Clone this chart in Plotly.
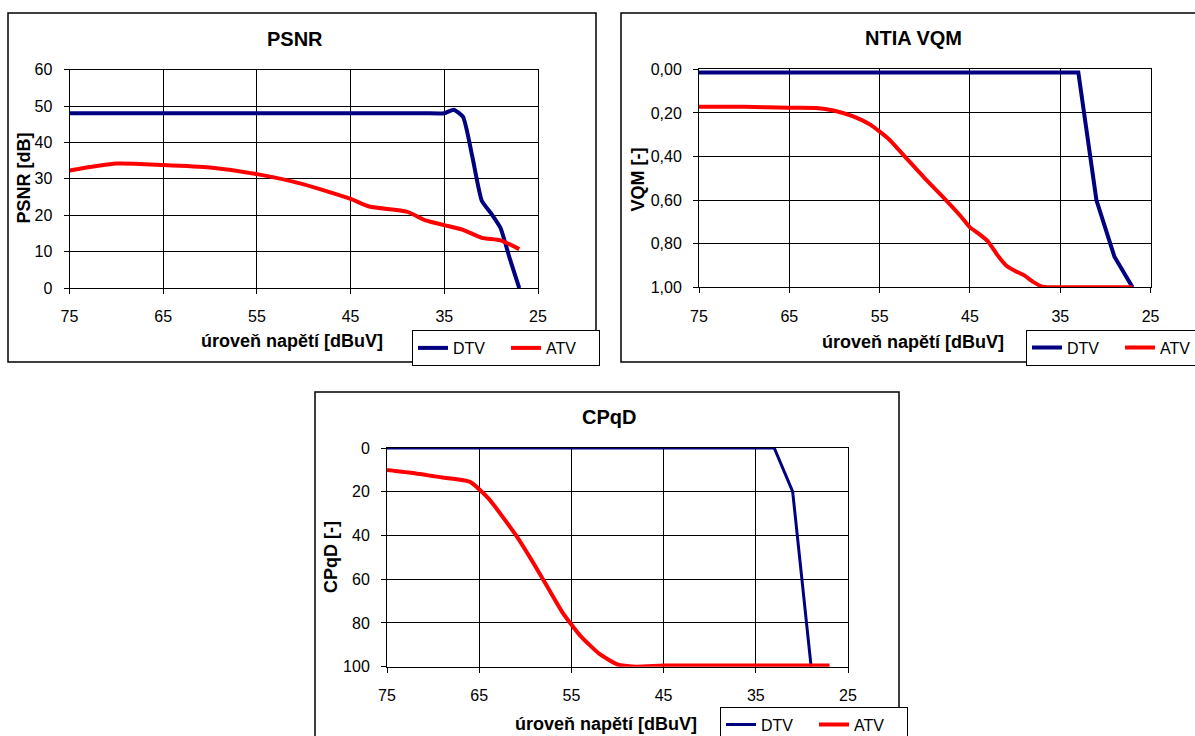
import plotly.graph_objects as go

# ---------------- data ----------------
psnr_x_dtv = [75, 70, 65, 60, 55, 50, 45, 43, 41, 39, 37, 35, 34, 33, 32, 31, 30, 29, 28, 27]
psnr_dtv = [48, 48, 48, 48, 48, 48, 48, 48, 48, 48, 48, 48, 49, 47, 36, 24, 20.5, 16.5, 8, 0]
psnr_x_atv = [75, 70, 65, 60, 55, 50, 45, 43, 39, 37, 35, 33, 31, 29, 27]
psnr_atv = [32.3, 34.2, 33.8, 33.1, 31.3, 28.5, 24.5, 22.4, 21.0, 18.6, 17.3, 16.0, 13.8, 13.1, 10.7]

vqm_x_dtv = [75, 70, 65, 60, 55, 50, 45, 40, 35, 33, 31, 29, 27]
vqm_dtv = [0.015, 0.015, 0.015, 0.015, 0.015, 0.015, 0.015, 0.015, 0.015, 0.015, 0.6, 0.86, 1.0]
vqm_x_atv = [75, 70, 65, 62, 60, 58, 56, 54, 52, 50, 48, 46, 45, 44, 43, 42, 41, 40, 39, 38, 37, 35, 33, 31, 29, 27]
vqm_atv = [0.172, 0.172, 0.176, 0.177, 0.19, 0.215, 0.255, 0.32, 0.41, 0.5, 0.585, 0.675, 0.725, 0.755,
           0.79, 0.85, 0.9, 0.925, 0.945, 0.975, 0.997, 1.0, 1.0, 1.0, 1.0, 1.0]

cpqd_x_dtv = [75, 70, 65, 60, 55, 50, 45, 40, 35, 33, 31, 29]
cpqd_dtv = [0, 0, 0, 0, 0, 0, 0, 0, 0, 0, 20, 100]
cpqd_x_atv = [75, 72, 69, 66, 64, 61, 58.5, 56, 54, 52, 50, 48, 45, 40, 35, 30, 27]
cpqd_atv = [10, 11.5, 13.5, 15.5, 23, 40, 57, 75, 86, 94, 99, 100, 99.5, 99.5, 99.5, 99.5, 99.5]

x_ticks = [75, 65, 55, 45, 35, 25]
vqm_tickvals = [0.0, 0.2, 0.4, 0.6, 0.8, 1.0]
vqm_ticktext = ["0,00", "0,20", "0,40", "0,60", "0,80", "1,00"]

chart_titles = ["PSNR", "NTIA VQM", "CPqD"]
y_titles = ["PSNR [dB]", "VQM [-]", "CPqD [-]"]
x_title = "úroveň napětí [dBuV]"
series_names = ["DTV", "ATV"]

# ---------------- style ----------------
W, H = 1195, 736
NAVY = "#000080"
RED = "#FF0000"
FONT = "Liberation Sans, Arial, sans-serif"


def fx(p):
    return p / W


def fy(p):
    return 1 - p / H


fig = go.Figure()

# PSNR
fig.add_trace(go.Scatter(x=psnr_x_dtv, y=psnr_dtv, name=series_names[0], mode="lines",
                         line=dict(color=NAVY, width=4, shape="spline", smoothing=0.5),
                         xaxis="x", yaxis="y", legend="legend"))
fig.add_trace(go.Scatter(x=psnr_x_atv, y=psnr_atv, name=series_names[1], mode="lines",
                         line=dict(color=RED, width=4, shape="spline", smoothing=0.6),
                         xaxis="x", yaxis="y", legend="legend"))
# VQM
fig.add_trace(go.Scatter(x=vqm_x_dtv, y=vqm_dtv, name=series_names[0], mode="lines",
                         line=dict(color=NAVY, width=4),
                         xaxis="x2", yaxis="y2", legend="legend2"))
fig.add_trace(go.Scatter(x=vqm_x_atv, y=vqm_atv, name=series_names[1], mode="lines",
                         line=dict(color=RED, width=4, shape="spline", smoothing=0.5),
                         xaxis="x2", yaxis="y2", legend="legend2"))
# CPqD
fig.add_trace(go.Scatter(x=cpqd_x_dtv, y=cpqd_dtv, name=series_names[0], mode="lines",
                         line=dict(color=NAVY, width=3),
                         xaxis="x3", yaxis="y3", legend="legend3"))
fig.add_trace(go.Scatter(x=cpqd_x_atv, y=cpqd_atv, name=series_names[1], mode="lines",
                         line=dict(color=RED, width=4, shape="spline", smoothing=0.5),
                         xaxis="x3", yaxis="y3", legend="legend3"))

axis_common = dict(showline=True, linecolor="black", linewidth=1, mirror=True,
                   showgrid=True, gridcolor="black", gridwidth=1, zeroline=False,
                   ticks="outside", ticklen=5, tickcolor="black", automargin=False,
                   tickfont=dict(family=FONT, size=16, color="black"))

plots = [
    # x0, x1, ytop, ybottom
    (69.5, 538.0, 69.6, 288.1),
    (699.0, 1150.6, 69.3, 287.3),
    (387.0, 848.0, 448.0, 666.7),
]

layout = dict(width=W, height=H, margin=dict(l=0, r=0, t=0, b=0, autoexpand=False),
              paper_bgcolor="white", plot_bgcolor="white",
              font=dict(family=FONT, color="black"))

yranges = [[0, 60], [1, 0], [100, 0]]
ydticks = [10, None, 20]
for i, (x0, x1, yt, yb) in enumerate(plots):
    sfx = "" if i == 0 else str(i + 1)
    xa = dict(axis_common, domain=[fx(x0), fx(x1)], anchor="y" + sfx,
              range=[75, 25], tickvals=x_ticks, ticklabelstandoff=9)
    ya = dict(axis_common, domain=[fy(yb), fy(yt)], anchor="x" + sfx,
              range=yranges[i], ticklabelstandoff=8)
    if i == 1:
        ya.update(tickvals=vqm_tickvals, ticktext=vqm_ticktext)
    else:
        ya.update(dtick=ydticks[i], tick0=0)
    layout["xaxis" + sfx] = xa
    layout["yaxis" + sfx] = ya

# legends
legend_pos = [(412, 330), (1026, 329.5), (720, 706.5)]
for i, (lx, ly) in enumerate(legend_pos):
    key = "legend" if i == 0 else "legend%d" % (i + 1)
    layout[key] = dict(x=fx(lx), y=fy(ly), xanchor="left", yanchor="top",
                       orientation="h", bordercolor="black", borderwidth=1,
                       bgcolor="white", font=dict(family=FONT, size=16, color="black"),
                       itemwidth=30, tracegroupgap=0, entrywidth=48)

# frames
frames = [(8, 13, 596, 362), (621, 13, 1215, 362), (315, 392, 899, 750)]
shapes = []
for (a, b, c, d) in frames:
    shapes.append(dict(type="rect", xref="paper", yref="paper",
                       x0=fx(a), x1=fx(c), y0=fy(d), y1=fy(b),
                       line=dict(color="black", width=1.5), layer="below"))
layout["shapes"] = shapes

annotations = []
title_pos = [(295, 39), (913, 38), (609, 417)]
for t, (tx, ty) in zip(chart_titles, title_pos):
    annotations.append(dict(text="<b>%s</b>" % t, x=fx(tx), y=fy(ty), xref="paper", yref="paper",
                            showarrow=False, xanchor="center", yanchor="middle",
                            font=dict(family=FONT, size=20, color="black")))
ytitle_pos = [(23.5, 178), (637, 179.5), (330.5, 557.5)]
for t, (tx, ty) in zip(y_titles, ytitle_pos):
    annotations.append(dict(text="<b>%s</b>" % t, x=fx(tx), y=fy(ty), xref="paper", yref="paper",
                            showarrow=False, xanchor="center", yanchor="middle", textangle=-90,
                            font=dict(family=FONT, size=18, color="black")))
xtitle_pos = [(291.5, 341), (913, 342), (606, 724)]
for (tx, ty) in xtitle_pos:
    annotations.append(dict(text="<b>%s</b>" % x_title, x=fx(tx), y=fy(ty), xref="paper", yref="paper",
                            showarrow=False, xanchor="center", yanchor="middle",
                            font=dict(family=FONT, size=18, color="black")))
layout["annotations"] = annotations

fig.update_layout(**layout)
# remove the browser's default 8px body margin so the 1195x736 figure fills the window exactly
fig.write_html("out.html", config={"displayModeBar": False},
               post_script="document.body.style.margin='0px';document.body.style.overflow='hidden';")
